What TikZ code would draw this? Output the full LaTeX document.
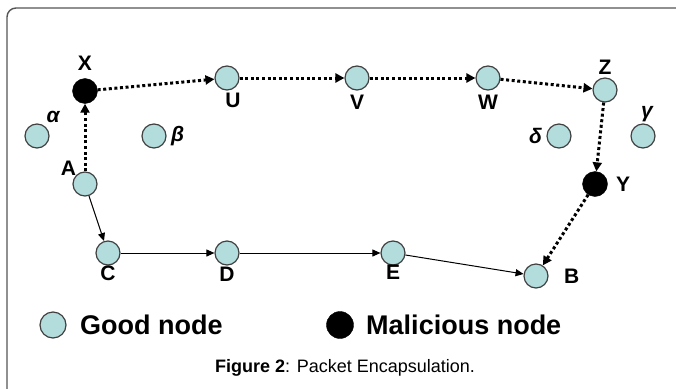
\documentclass[tikz,border=0pt]{standalone}
\usepackage{fontspec}
\setmainfont{Liberation Sans}
\usepackage{xcolor}
\usetikzlibrary{arrows.meta, positioning}

\definecolor{goodfill}{HTML}{B3DCDC}
\definecolor{framegray}{HTML}{555555}

\tikzset{
    good/.style={circle, draw=black!75, line width=1.2pt, fill=goodfill, minimum size=24pt, inner sep=0pt},
    bad/.style={circle, draw=black, fill=black, minimum size=25pt, inner sep=0pt},
    lbl/.style={font=\bfseries\fontsize{21}{23}\selectfont, label distance=1pt},
    hop/.style={line width=3pt, dash pattern=on 3pt off 2.6pt, -{Triangle[length=9pt,width=9pt]}},
    link/.style={line width=1pt, -{Triangle[length=8pt,width=7pt]}},
    legendtext/.style={anchor=west, font=\bfseries\fontsize{27}{29}\selectfont},
}

\begin{document}
\begin{tikzpicture}[x=1pt, y=-1pt]
    \useasboundingbox (0,0) rectangle (676,388);
    \draw[framegray, line width=1.4pt, rounded corners=9pt] (7,392) -- (7,8) -- (680,8);

    % route nodes
    \node[bad, label={[lbl, label distance=4pt]above:X}] (X) at (85,91) {};
    \node[good, label={[lbl, xshift=6pt, label distance=-1pt]below:U}] (U) at (227,78) {};
    \node[good, label={[lbl, label distance=1pt]below:V}] (V) at (357,78) {};
    \node[good, label={[lbl, label distance=1pt]below:W}] (W) at (488,78) {};
    \node[good, label={[lbl, label distance=-1pt]above:Z}] (Z) at (605,90) {};
    \node[good, label={[lbl, label distance=-5pt]above left:A}] (A) at (85,184) {};
    \node[bad, label={[lbl, label distance=5pt]right:Y}] (Y) at (595,184) {};
    \node[good, label={[lbl, label distance=-3pt]below:C}] (C) at (108,253) {};
    \node[good, label={[lbl, label distance=-2pt]below:D}] (D) at (227,253) {};
    \node[good, label={[lbl, label distance=-4pt]below:E}] (E) at (393,253) {};
    \node[good, label={[lbl, label distance=12pt]right:B}] (B) at (536,276) {};

    % other nodes
    \node[good, label={[lbl, label distance=-4pt, yshift=4pt]above right:\itshape α}] (alpha) at (37,136) {};
    \node[good, label={[lbl, label distance=1pt]right:\itshape β}] (beta) at (154,136) {};
    \node[good, label={[lbl, label distance=1pt]left:\itshape δ}] (delta) at (559,136) {};
    \node[good, label={[lbl, label distance=-2pt, xshift=4pt]above:\itshape γ}] (gamma) at (643,136) {};

    % malicious route
    \draw[hop] (A) -- (X);
    \draw[hop] (X) -- (U);
    \draw[hop] (U) -- (V);
    \draw[hop] (V) -- (W);
    \draw[hop] (W) -- (Z);
    \draw[hop] (Z) -- (Y);
    \draw[hop] (Y) -- (B);

    % good route
    \draw[link] (A) -- (C);
    \draw[link] (C) -- (D);
    \draw[link] (D) -- (E);
    \draw[link] (E) -- (B);

    % legend
    \node[good, minimum size=26pt] (lgood) at (53,325) {};
    \node[legendtext, right=10pt of lgood] (tgood) {Good node};
    \node[bad, minimum size=27pt] (lbad) at (340,325) {};
    \node[legendtext, right=9pt of lbad] (tbad) {Malicious node};

    \node[font=\fontsize{18}{20}\selectfont] (cap) at (345,368) {\textbf{Figure 2}: Packet Encapsulation.};
\end{tikzpicture}
\end{document}
